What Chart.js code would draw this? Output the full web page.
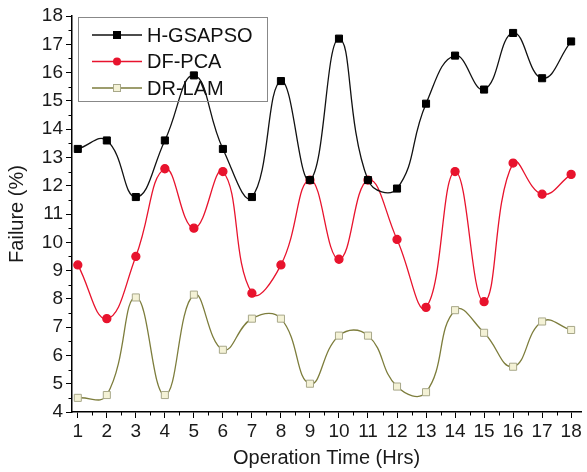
<!DOCTYPE html>
<html>
<head>
<meta charset="utf-8">
<script src="https://cdn.jsdelivr.net/npm/chart.js@4/dist/chart.umd.min.js"></script>
<style>
  html, body { margin: 0; padding: 0; background: #fff; }
</style>
</head>
<body>
<canvas id="myChart" width="587" height="472"></canvas>
<script>
// operation time (hrs)
const hours = [1,2,3,4,5,6,7,8,9,10,11,12,13,14,15,16,17,18];
const yTicks = [4,5,6,7,8,9,10,11,12,13,14,15,16,17,18];

const hgsapso = [13.3,13.6,11.6,13.6,15.9,13.3,11.6,15.7,12.2,17.2,12.2,11.9,14.9,16.6,15.4,17.4,15.8,17.1];
const dfpca   = [9.2,7.3,9.5,12.6,10.5,12.5,8.2,9.2,12.2,9.4,12.2,10.1,7.7,12.5,7.9,12.8,11.7,12.4];
const drlam   = [4.5,4.6,8.05,4.6,8.15,6.2,7.3,7.3,5.0,6.7,6.7,4.9,4.7,7.6,6.8,5.6,7.2,6.9];

const seriesNames = ['H-GSAPSO', 'DF-PCA', 'DR-LAM'];

const FONT = "'Liberation Sans', Arial, sans-serif";
const RED = '#e8132d';
const OLIVE = '#7d7d3c';

function toXY(vals){
	return vals.map((v, i) => ({ x: hours[i], y: v }));
}

// legend drawn inside the plot, like the original
const boxLegend = {
	id: 'boxLegend',
	afterDraw(chart){
		const c = chart.ctx;
		const ca = chart.chartArea;
		const x0 = ca.left + 6, y0 = ca.top + 1, w = 189, h = 84;
		c.save();
		c.strokeStyle = '#888';
		c.lineWidth = 1;
		c.strokeRect(x0 + 0.5, y0 + 0.5, w, h);
		c.font = '20px ' + FONT;
		c.textBaseline = 'middle';
		chart.data.datasets.forEach((ds, i) => {
			const yy = y0 + 18 + i * 26.5;
			c.strokeStyle = ds.borderColor;
			c.lineWidth = 1.5;
			c.beginPath();
			c.moveTo(x0 + 14, yy);
			c.lineTo(x0 + 64, yy);
			c.stroke();
			c.fillStyle = ds.pointBackgroundColor;
			c.strokeStyle = ds.pointBorderColor;
			c.lineWidth = 1;
			if (ds.pointStyle === 'circle') {
				c.beginPath();
				c.arc(x0 + 39, yy, 4, 0, Math.PI * 2);
				c.fill();
			} else {
				c.fillRect(x0 + 35.5, yy - 3.5, 7, 7);
				c.strokeRect(x0 + 35.5, yy - 3.5, 7, 7);
			}
			c.fillStyle = '#111';
			c.fillText(ds.label, x0 + 69, yy + 1);
		});
		c.restore();
	}
};

// minor ticks at the half steps
const minorTicks = {
	id: 'minorTicks',
	afterDraw(chart){
		const c = chart.ctx;
		const xs = chart.scales.x, ys = chart.scales.y;
		c.save();
		c.strokeStyle = '#000';
		c.lineWidth = 1;
		for (let v = 0.5; v <= 18.5; v += 1) {
			if (v < xs.min || v > xs.max) continue;
			const px = Math.round(xs.getPixelForValue(v)) + 0.5;
			c.beginPath();
			c.moveTo(px, xs.top);
			c.lineTo(px, xs.top + 3.5);
			c.stroke();
		}
		for (let v = 4.5; v < 18; v += 1) {
			const py = Math.round(ys.getPixelForValue(v)) + 0.5;
			c.beginPath();
			c.moveTo(ys.right, py);
			c.lineTo(ys.right - 3.5, py);
			c.stroke();
		}
		c.restore();
	}
};

const ctx = document.getElementById('myChart');

new Chart(ctx, {
	type: 'line',
	data: {
		datasets: [{
			label: seriesNames[0],
			data: toXY(hgsapso),
			borderColor: '#111',
			borderWidth: 1.3,
			pointStyle: 'rect',
			pointRadius: 5,
			pointBackgroundColor: '#000',
			pointBorderColor: '#000',
			pointBorderWidth: 1,
			tension: 0.45
		}, {
			label: seriesNames[1],
			data: toXY(dfpca),
			borderColor: RED,
			borderWidth: 1.3,
			pointStyle: 'circle',
			pointRadius: 4,
			pointBackgroundColor: RED,
			pointBorderColor: RED,
			tension: 0.45
		}, {
			label: seriesNames[2],
			data: toXY(drlam),
			borderColor: OLIVE,
			borderWidth: 1.3,
			pointStyle: 'rect',
			pointRadius: 5,
			pointBackgroundColor: '#f4f2d6',
			pointBorderColor: '#a8a88a',
			pointBorderWidth: 1,
			tension: 0.45
		}]
	},
	options: {
		responsive: false,
		animation: false,
		layout: { padding: { top: 16, right: 0, left: 0, bottom: 0 } },
		plugins: {
			legend: { display: false },
			tooltip: { enabled: false }
		},
		scales: {
			x: {
				type: 'linear',
				min: 0.8,
				max: 18.34,
				afterBuildTicks: (s) => { s.ticks = hours.map(v => ({ value: v })); },
				afterFit: (s) => { s.height = 60; s.paddingRight = 0; s.paddingLeft = 0; },
				border: { color: '#000', width: 1.5 },
				grid: { drawOnChartArea: false, drawTicks: true, tickLength: 6, color: '#000' },
				ticks: { color: '#1a1a1a', font: { family: FONT, size: 19 }, padding: 2, maxRotation: 0, autoSkip: false },
				title: { display: true, text: 'Operation Time (Hrs)', color: '#1a1a1a', font: { family: FONT, size: 20 }, padding: { top: 0, bottom: 2 } }
			},
			y: {
				min: 4,
				max: 18,
				afterBuildTicks: (s) => { s.ticks = yTicks.map(v => ({ value: v })); },
				afterFit: (s) => { s.width = 72; },
				border: { color: '#000', width: 1.5 },
				grid: { drawOnChartArea: false, drawTicks: true, tickLength: 6, color: '#000' },
				ticks: { color: '#1a1a1a', font: { family: FONT, size: 19 }, padding: 3 },
				title: { display: true, text: 'Failure (%)', color: '#1a1a1a', font: { family: FONT, size: 20 }, padding: { top: 5, bottom: 0 } }
			}
		}
	},
	plugins: [boxLegend, minorTicks]
});
</script>
</body>
</html>
